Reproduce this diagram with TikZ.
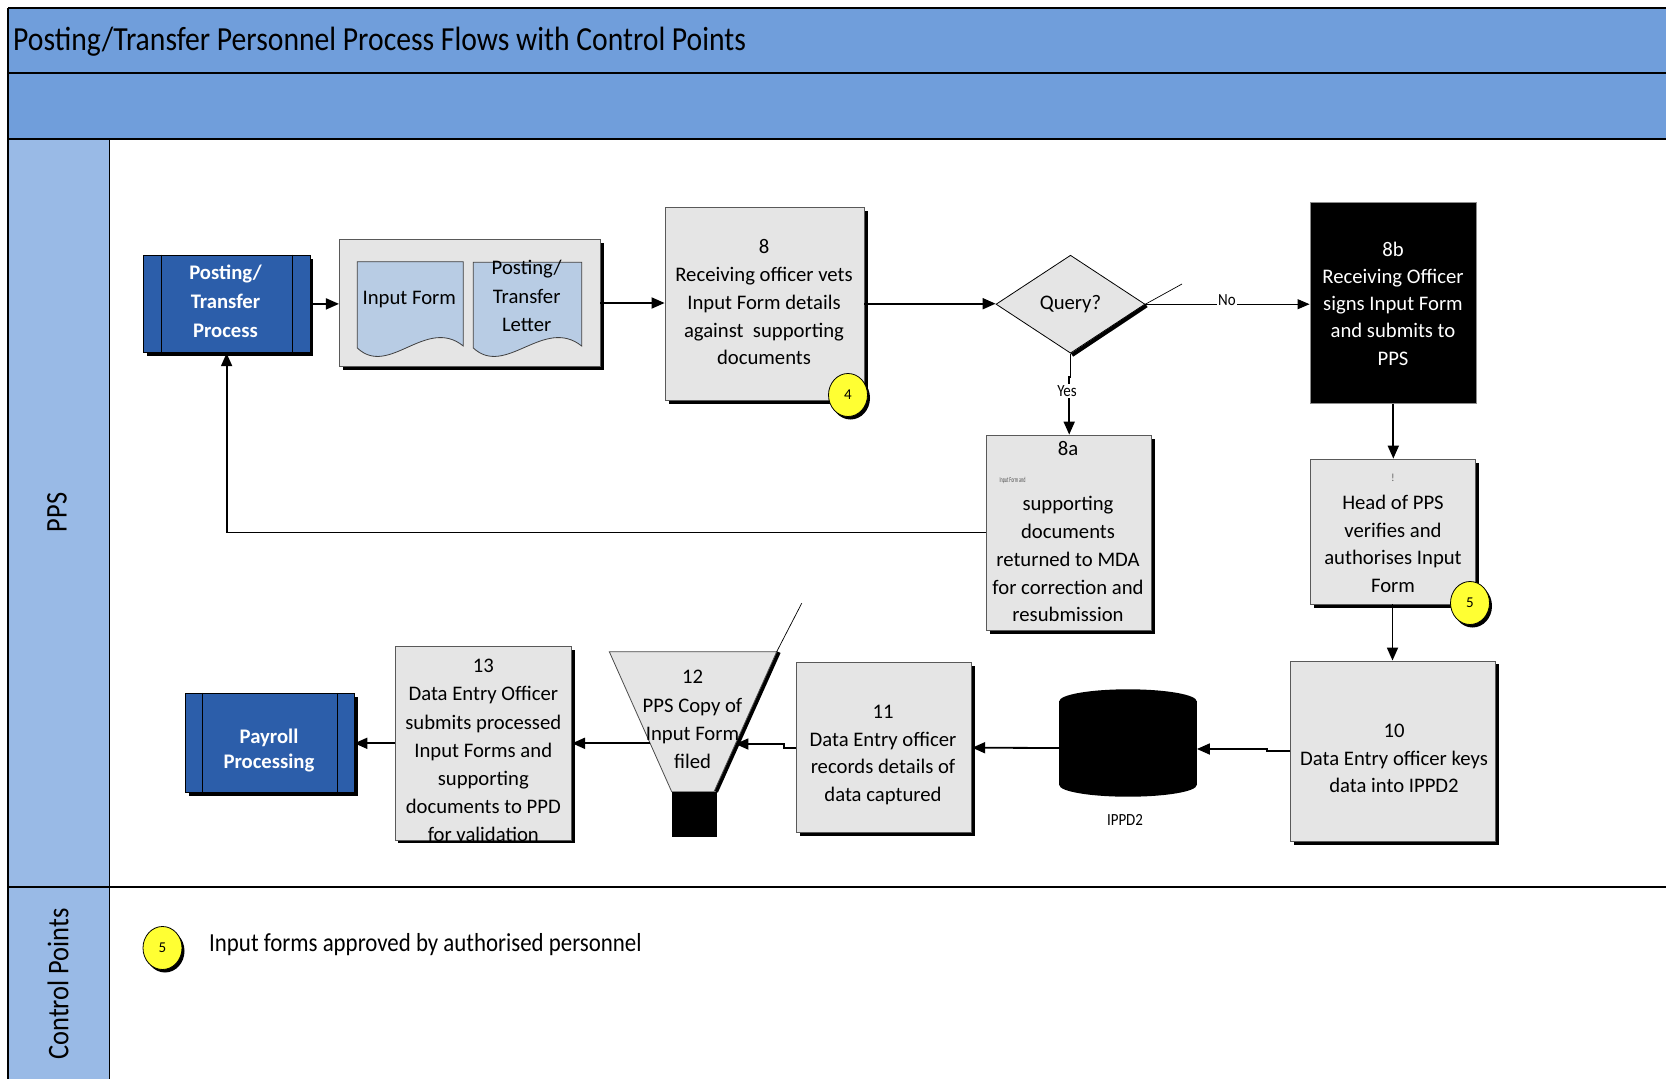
\documentclass[tikz,border=0pt]{standalone}
\usepackage{fontspec}
\setmainfont{Carlito}
\newfontfamily\narrowfont{Carlito}[FakeStretch=0.88]
\usetikzlibrary{shapes.geometric,shadows,arrows.meta,calc}

\definecolor{bandblue}{RGB}{112,158,219}
\definecolor{laneblue}{RGB}{153,186,230}
\definecolor{procblue}{RGB}{44,94,170}
\definecolor{boxgray}{RGB}{229,229,229}
\definecolor{docblue}{RGB}{184,204,228}
\definecolor{cpyellow}{RGB}{255,255,51}

\newcommand\flowtext{\fontsize{20.7}{27.8}\selectfont}

\pgfdeclarelayer{back}
\pgfdeclarelayer{shade}
\pgfsetlayers{back,shade,main}

\begin{document}
\begin{tikzpicture}[x=1pt,y=-1pt,
  procbox/.style={rectangle, draw=black!65, line width=0.8pt, fill=boxgray, inner sep=0pt,
    general shadow={fill=black, shadow xshift=3.5pt, shadow yshift=-3.5pt}},
  subproc/.style={rectangle, draw=black, line width=0.8pt, fill=procblue, inner sep=0pt,
    general shadow={fill=black, shadow xshift=3.5pt, shadow yshift=-3.5pt}},
  txt/.style={align=center, font=\flowtext, inner sep=0pt},
  ctrl/.style={ellipse, draw=black, line width=0.8pt, fill=cpyellow, minimum width=39pt,
    minimum height=43pt, inner sep=0pt, font=\fontsize{15}{15}\selectfont,
    general shadow={fill=black, shadow xshift=2.5pt, shadow yshift=-3pt}},
  docshape/.style={draw=black!75, line width=0.8pt, fill=docblue},
  flow/.style={line width=1.8pt, -{Triangle[length=13pt,width=11pt]}},
  thinflow/.style={line width=1pt, -{Triangle[length=12pt,width=10pt]}},
  lbl/.style={font=\narrowfont\fontsize{17}{17}\selectfont, inner sep=1pt},
  frame/.style={line width=1.4pt}]

\useasboundingbox (0,0) rectangle (1666,1079);

% swimlane frame and headers
\begin{pgfonlayer}{back}
  \fill[white] (0,0) rectangle (1666,1079);
  \fill[bandblue] (8,8) rectangle (1666,139);
  \fill[laneblue] (8,139) rectangle (109.5,1079);
  \draw[frame] (8,8) -- (1666,8);
  \draw[frame] (8,8) -- (8,1079);
  \draw[frame] (8,73) -- (1666,73);
  \draw[frame] (8,139) -- (1666,139);
  \draw[frame] (109.5,139) -- (109.5,1079);
  \draw[frame] (8,887) -- (1666,887);
\end{pgfonlayer}

\node[anchor=base west, inner sep=0pt, font=\narrowfont\fontsize{33.7}{40}\selectfont] (title)
  at (13,50) {Posting/Transfer Personnel Process Flows with Control Points};
\node[rotate=90, inner sep=0pt, font=\narrowfont\fontsize{30}{30}\selectfont] (lanepps) at (57,512.5) {PPS};
\node[rotate=90, inner sep=0pt, font=\narrowfont\fontsize{30}{30}\selectfont] (lanecp) at (58,984) {Control Points};

% start: Posting/Transfer Process
\node[subproc, minimum width=166.7pt, minimum height=97.7pt] (pt) at (226.6,303.9) {};
\draw[line width=0.8pt] ([xshift=18.4pt]pt.north west) -- ([xshift=18.4pt]pt.south west);
\draw[line width=0.8pt] ([xshift=-18.3pt]pt.north east) -- ([xshift=-18.3pt]pt.south east);
\node[txt, text=white, font=\bfseries\fontsize{20.7}{29}\selectfont] (pt-t) at (225.5,301.5)
  {Posting/\\Transfer\\Process};

% documents group
\node[procbox, minimum width=260.7pt, minimum height=127.4pt] (grp) at (469.7,303) {};
\draw[docshape] (357.3,348) -- (357.3,261.7) -- (463.3,261.7) -- (463.3,346)
  .. controls (426,316) and (389,378) .. (357.3,348) -- cycle;
\draw[docshape] (473.3,348) -- (473.3,262.3) -- (581.7,262.3) -- (581.7,346)
  .. controls (543.8,316) and (505.8,378) .. (473.3,348) -- cycle;
\node[txt] (doc1) at (409.3,299.5) {Input Form};
\node[txt, font=\fontsize{20.7}{28.3}\selectfont] (doc2) at (526.7,296) {Posting/\\Transfer\\Letter};

% step 8
\node[procbox, minimum width=199pt, minimum height=192.7pt] (b8) at (764.5,303.7) {};
\node[txt] (b8-t) at (764,302.3)
  {8\\Receiving officer vets\\Input Form details\\against\ \ supporting\\documents};
\node[ctrl] (c4) at (848,395) {4};

% decision
\begin{pgfonlayer}{shade}
  \draw[line width=4pt] (1072,355) -- (1146.5,305.5);
\end{pgfonlayer}
\node[diamond, aspect=1.52, draw=black, line width=0.8pt, fill=boxgray, minimum width=149pt,
  minimum height=98pt, inner sep=0pt, font=\flowtext] (q) at (1070.5,304.2) {Query?};
\draw[line width=0.7pt] (q.east) -- (1182,284);

% step 8b
\node[rectangle, fill=black, draw=black!45, line width=0.8pt, minimum width=166.7pt,
  minimum height=200.6pt] (b8b) at (1393.3,303) {};
\node[txt, text=white, font=\fontsize{20.7}{27.3}\selectfont] (b8b-t) at (1393,303.5)
  {8b\\Receiving Officer\\signs Input Form\\and submits to\\PPS};

% step 8a
\node[procbox, minimum width=165pt, minimum height=195pt] (b8a) at (1069.2,532.5) {};
\node[txt] (b8a-t) at (1068,531.5)
  {8a\\\makebox[0pt]{{\color{black!70}\scalebox{0.55}[1]{\fontsize{7.5}{7.5}\selectfont Input Form and}}\hspace{111pt}}\\supporting\\documents\\returned to MDA\\for correction and\\resubmission};

% head of PPS
\node[procbox, minimum width=165pt, minimum height=145pt] (head) at (1392.5,531.5) {};
\node[txt] (head-t) at (1393,533.5)
  {{\color{black!60}\fontsize{11}{11}\selectfont !}\\Head of PPS\\verifies and\\authorises Input\\Form};
\node[ctrl] (c5) at (1470,603) {5};

% step 10
\node[procbox, minimum width=204.3pt, minimum height=180.7pt] (b10) at (1392.9,751.3) {};
\node[txt, font=\fontsize{20.7}{27.5}\selectfont] (b10-t) at (1394,758.5)
  {10\\Data Entry officer keys\\data into IPPD2};

% IPPD2 database
\fill (1128,701.3) ellipse [x radius=68.7, y radius=12];
\fill (1059.3,701.3) rectangle (1196.7,785);
\fill (1128,785) ellipse [x radius=68.7, y radius=11.7];
\node[inner sep=0pt, minimum width=137.4pt, minimum height=107.4pt] (db) at (1128,743) {};
\node[lbl] (db-l) at (1125,820) {IPPD2};

% step 11
\node[procbox, minimum width=175.7pt, minimum height=170pt] (b11) at (883.9,747.7) {};
\node[txt, font=\fontsize{20.7}{27.6}\selectfont] (b11-t) at (883,755)
  {11\\Data Entry officer\\records details of\\data captured};

% step 12: filing
\draw[line width=4.5pt] (778.5,652) -- (715.8,791.7);
\filldraw[fill=boxgray, draw=black!70, line width=0.8pt]
  (609.3,651.7) -- (776.7,651.7) -- (714,791.7) -- (671.7,791.7) -- cycle;
\fill (671.7,791.7) rectangle (716.7,837.3);
\draw[line width=0.7pt] (776.7,651.7) -- (801.7,603.3);
\coordinate (fileR) at (735.4,744);
\coordinate (fileL) at (650.1,743.3);
\node[txt, font=\fontsize{20.7}{28.3}\selectfont] (file-t) at (692.5,719.5) {12\\PPS Copy of\\Input Form\\filed};

% step 13
\node[procbox, minimum width=176.7pt, minimum height=193.3pt] (b13) at (483.3,743.3) {};
\node[txt, font=\fontsize{20.7}{28.2}\selectfont] (b13-t) at (483.3,750.6)
  {13\\Data Entry Officer\\submits processed\\Input Forms and\\supporting\\documents to PPD\\for validation};

% end: Payroll Processing
\node[subproc, minimum width=169pt, minimum height=99pt] (pay) at (269.5,742.8) {};
\draw[line width=0.8pt] ([xshift=17.7pt]pay.north west) -- ([xshift=17.7pt]pay.south west);
\draw[line width=0.8pt] ([xshift=-17.3pt]pay.north east) -- ([xshift=-17.3pt]pay.south east);
\node[txt, text=white, font=\bfseries\fontsize{20.7}{25}\selectfont] (pay-t) at (269,750)
  {Payroll\\Processing};

% connectors
\draw[flow] (pt.east) -- (pt.east -| grp.west);
\draw[flow] (grp.east) -- (grp.east -| b8.west);
\draw[flow] (b8.east) -- (b8.east -| q.west);
\draw[thinflow] (q.east) -- (q.east -| b8b.west);
\node[lbl, fill=white] (no) at (1227,300) {No};
\draw[flow] (q.south) -- ++(0,23) -| (b8a.north);
\node[lbl, fill=white] (yes) at (1067,391) {Yes};
\draw[flow] (b8a.west) -| (pt.south);
\draw[flow] (b8b.south) -- (b8b.south |- head.north);
\draw[flow] (head.south) -- (head.south |- b10.north);
\draw[flow] (b10.west) -- ++(-23,0) |- ([yshift=-6pt]db.east);
\draw[flow] ([yshift=-5pt]db.west) -- (b11.east);
\draw[flow] (b11.west) -- ++(-12,0) |- (fileR);
\draw[flow] (fileL) -- (fileL -| b13.east);
\draw[flow] (b13.west) -- (b13.west -| pay.east);

% control points legend
\node[ctrl] (c5l) at (162.5,948) {5};
\node[anchor=base west, inner sep=0pt, font=\narrowfont\fontsize{26}{30}\selectfont] (cptext)
  at (209,951.7) {Input forms approved by authorised personnel};

\end{tikzpicture}
\end{document}
